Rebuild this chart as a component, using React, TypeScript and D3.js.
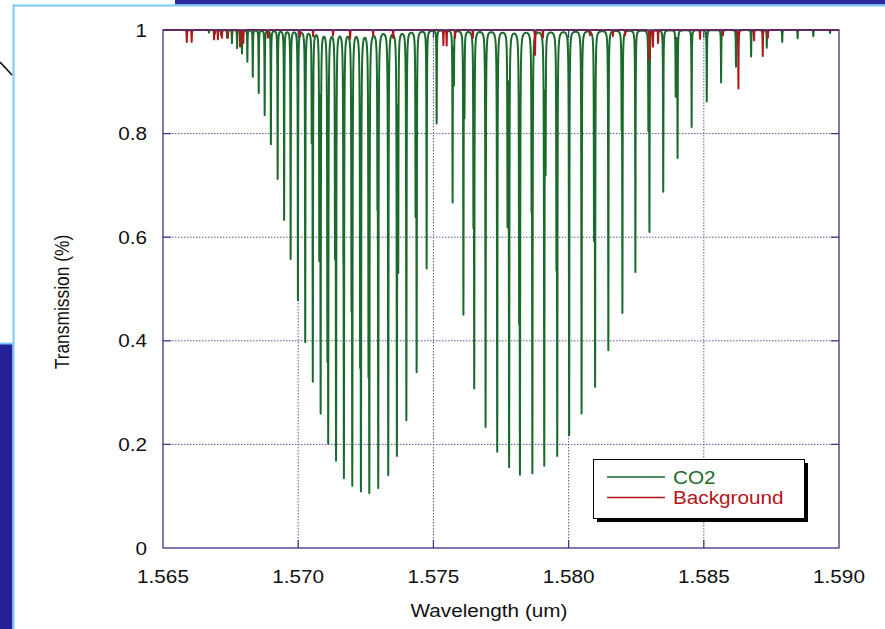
import React from 'react';
import * as d3 from 'd3';

// ---- data ----
const xTicks = [1.565, 1.57, 1.575, 1.58, 1.585, 1.59];
const yTicks = [0, 0.2, 0.4, 0.6, 0.8, 1];
const xTickLabels = ['1.565', '1.570', '1.575', '1.580', '1.585', '1.590'];
const yTickLabels = ['0', '0.2', '0.4', '0.6', '0.8', '1'];

// CO2 absorption line centres (um) and minimum transmission at each line
const co2Centers = [
  1.5667, 1.56692, 1.56715, 1.56737, 1.56755, 1.56774, 1.56792, 1.56812, 1.56832, 1.56854,
  1.56876, 1.56899, 1.56924, 1.56948, 1.56972, 1.56999, 1.57026, 1.57054, 1.57083, 1.57111,
  1.5714, 1.57169, 1.572, 1.57232, 1.57263, 1.57296, 1.57333, 1.57365, 1.574, 1.57438,
  1.57475, 1.57512,
  1.57571, 1.57611, 1.57651, 1.57693, 1.57736, 1.5778, 1.5782, 1.57866, 1.5791, 1.57958,
  1.58002, 1.58048, 1.58098, 1.58147, 1.58199, 1.58247, 1.58299, 1.5835, 1.58403, 1.58455,
  1.58511, 1.58564, 1.58619, 1.58675, 1.58733, 1.5879, 1.58847, 1.58905, 1.58967,
  // weaker companion lines
  1.5705, 1.57078, 1.57108, 1.57136, 1.57167, 1.57197, 1.57229, 1.5726, 1.57293, 1.5737,
  1.57434, 1.57576, 1.57615, 1.57648, 1.57774, 1.57817, 1.57863, 1.57915, 1.57955, 1.58094,
  1.58196, 1.58295, 1.58396,
];
const co2Minima = [
  0.995, 0.993, 0.99, 0.985, 0.975, 0.965, 0.955, 0.939, 0.91, 0.879,
  0.836, 0.78, 0.713, 0.634, 0.559, 0.479, 0.398, 0.324, 0.263, 0.212,
  0.172, 0.141, 0.125, 0.115, 0.112, 0.118, 0.141, 0.18, 0.247, 0.344,
  0.54, 0.82,
  0.669, 0.453, 0.315, 0.234, 0.186, 0.157, 0.147, 0.147, 0.16, 0.183,
  0.218, 0.26, 0.316, 0.382, 0.458, 0.533, 0.614, 0.688, 0.754, 0.813,
  0.862, 0.899, 0.929, 0.949, 0.966, 0.977, 0.984, 0.988, 0.994,
  0.81, 0.57, 0.39, 0.59, 0.69, 0.51, 0.39, 0.37, 0.73, 0.55,
  0.66, 0.9, 0.85, 0.656, 0.636, 0.477, 0.717, 0.746, 0.585, 0.614,
  0.84, 0.817, 0.874,
];

// Background (other gases) line centres and minima
const bgCenters = [
  1.56588, 1.56606, 1.56689, 1.56703, 1.56718, 1.5674, 1.56785, 1.56797, 1.56888, 1.57007,
  1.57055, 1.57129, 1.57192, 1.57277, 1.57351, 1.57537, 1.57549, 1.5758, 1.57646, 1.57876,
  1.57905, 1.58079, 1.58164, 1.58209, 1.58299, 1.58312, 1.58331, 1.58486, 1.58571, 1.58628,
  1.58686, 1.58718, 1.58737,
];
const bgMinima = [
  0.977, 0.977, 0.982, 0.982, 0.985, 0.985, 0.968, 0.975, 0.985, 0.988,
  0.988, 0.99, 0.983, 0.99, 0.985, 0.971, 0.97, 0.985, 0.985, 0.952,
  0.985, 0.99, 0.988, 0.99, 0.942, 0.968, 0.975, 0.983, 0.99, 0.887,
  0.98, 0.95, 0.985,
];

const seriesNames = ['CO2', 'Background'];
const seriesColors = ['#1a6a2c', '#b3161a'];

// ---- layout ----
const W = 885;
const H = 629;
const M = { left: 163, right: 839, top: 30, bottom: 548 };
const FONT = '"Liberation Sans", Arial, sans-serif';
const SX = 1.12; // horizontal stretch of the reference's lettering

function lorentzSpectrum(centers: number[], minima: number[], grid: number[], hw: number) {
  const taus = minima.map((m) => -Math.log(m));
  return grid.map((w) => {
    let tau = 0;
    for (let i = 0; i < centers.length; i++) {
      const d = w - centers[i];
      tau += (taus[i] * hw * hw) / (d * d + hw * hw);
    }
    return [w, Math.exp(-tau)] as [number, number];
  });
}

function SText(props: { x: number; y: number; anchor?: string; size: number; fill?: string; children: React.ReactNode }) {
  const { x, y, anchor, size, fill, children } = props;
  return (
    <g transform={`translate(${x},${y}) scale(${SX},1)`}>
      <text x={0} y={0} textAnchor={anchor || 'start'} dominantBaseline="central" fontSize={size} fill={fill || '#111'}>
        {children}
      </text>
    </g>
  );
}

export default function App() {
  const x = d3.scaleLinear().domain([1.565, 1.59]).range([M.left, M.right]);
  const y = d3.scaleLinear().domain([0, 1]).range([M.bottom, M.top]);

  const step = (1.59 - 1.565) / 6760;
  const hw = 7e-6;
  const baseGrid = d3.range(1.565, 1.59 + step / 2, step);
  const co2Grid = Array.from(new Set([...baseGrid, ...co2Centers])).sort((a, b) => a - b);
  const bgGrid = Array.from(new Set([...baseGrid, ...bgCenters])).sort((a, b) => a - b);
  const co2 = lorentzSpectrum(co2Centers, co2Minima, co2Grid, hw);
  const bg = lorentzSpectrum(bgCenters, bgMinima, bgGrid, hw);

  const line = d3
    .line<[number, number]>()
    .x((d) => x(d[0]))
    .y((d) => y(d[1]));

  const frame = '#3d3288';
  const grid = '#5b5b9c';

  return (
    <svg
      width={W}
      height={H}
      style={{ position: 'absolute', left: 0, top: 0, background: '#ffffff' }}
      fontFamily={FONT}
    >
      {/* slide decoration */}
      <rect x={175} y={0} width={W - 175} height={4.5} fill="#2b28a0" />
      <rect x={13} y={4.5} width={W - 13} height={2} fill="#7cc8f4" />
      <rect x={0} y={344} width={12.5} height={H - 344} fill="#23219a" />
      <rect x={12.5} y={4.5} width={2} height={H - 4.5} fill="#7cc8f4" />
      <rect x={0} y={342.5} width={13} height={2} fill="#7cc8f4" />
      <line x1={0} y1={62} x2={12} y2={75} stroke="#111" strokeWidth={1.6} />

      <defs>
        <clipPath id="plotClip">
          <rect x={M.left} y={M.top - 3} width={M.right - M.left} height={M.bottom - M.top + 3} />
        </clipPath>
      </defs>

      {/* grid */}
      {yTicks.slice(1, -1).map((t) => (
        <line key={'gy' + t} x1={M.left} x2={M.right} y1={y(t)} y2={y(t)} stroke={grid} strokeWidth={1} strokeDasharray="1.5,1.5" />
      ))}
      {xTicks.slice(1, -1).map((t) => (
        <line key={'gx' + t} x1={x(t)} x2={x(t)} y1={M.top} y2={M.bottom} stroke={grid} strokeWidth={1} strokeDasharray="1.5,1.5" />
      ))}
      {/* inward ticks */}
      {yTicks.slice(1, -1).map((t) => (
        <g key={'ty' + t}>
          <line x1={M.left} x2={M.left + 8} y1={y(t)} y2={y(t)} stroke={frame} strokeWidth={1.2} />
          <line x1={M.right - 8} x2={M.right} y1={y(t)} y2={y(t)} stroke={frame} strokeWidth={1.2} />
        </g>
      ))}
      {xTicks.slice(1, -1).map((t) => (
        <g key={'tx' + t}>
          <line x1={x(t)} x2={x(t)} y1={M.bottom - 8} y2={M.bottom} stroke={frame} strokeWidth={1.2} />
          <line x1={x(t)} x2={x(t)} y1={M.top} y2={M.top + 8} stroke={frame} strokeWidth={1.2} />
        </g>
      ))}

      {/* spectra */}
      <g clipPath="url(#plotClip)">
        <path d={line(co2) || ''} fill="none" stroke={seriesColors[0]} strokeWidth={2} strokeLinejoin="round" />
        <path d={line(bg) || ''} fill="none" stroke={seriesColors[1]} strokeWidth={2} strokeLinejoin="round" />
      </g>

      {/* frame */}
      <rect x={M.left} y={M.top} width={M.right - M.left} height={M.bottom - M.top} fill="none" stroke={frame} strokeWidth={1.3} />

      {/* tick labels */}
      {xTicks.map((t, i) => (
        <SText key={'lx' + t} x={x(t)} y={576} anchor="middle" size={18.5}>
          {xTickLabels[i]}
        </SText>
      ))}
      {yTicks.map((t, i) => (
        <SText key={'ly' + t} x={147} y={y(t)} anchor="end" size={18.5}>
          {yTickLabels[i]}
        </SText>
      ))}

      {/* axis titles */}
      <SText x={489} y={610} anchor="middle" size={18.5}>
        Wavelength (um)
      </SText>
      <g transform={`translate(62,${(M.top + M.bottom) / 2 + 13}) scale(${SX},1) rotate(-90)`}>
        <text x={0} y={0} textAnchor="middle" dominantBaseline="central" fontSize={17.4} fill="#111">
          Transmission (%)
        </text>
      </g>

      {/* legend */}
      <rect x={597} y={463} width={211} height={59} fill="#000" />
      <rect x={593.5} y={459.5} width={211} height={59} fill="#fff" stroke="#000" strokeWidth={1} />
      {seriesNames.map((n, i) => (
        <g key={n}>
          <line x1={607} x2={665} y1={477 + i * 20.5} y2={477 + i * 20.5} stroke={seriesColors[i]} strokeWidth={1.3} />
          <SText x={673} y={477 + i * 20.5} size={18.5} fill={seriesColors[i]}>
            {n}
          </SText>
        </g>
      ))}
    </svg>
  );
}
